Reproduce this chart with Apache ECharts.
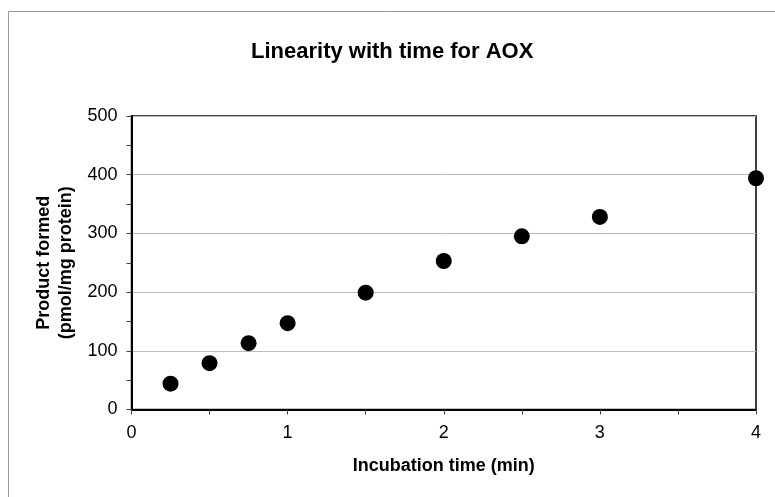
<!DOCTYPE html>
<html>
<head>
<meta charset="utf-8">
<script src="https://cdn.jsdelivr.net/npm/echarts@6/dist/echarts.min.js"></script>
<style>html,body{margin:0;padding:0;background:#fff}#c{width:775px;height:497px}</style>
</head>
<body>
<div id="c"></div>
<script>
var titleText = 'Linearity with time for AOX';
var xName = 'Incubation time (min)';
var yName = 'Product formed\n(pmol/mg protein)';
var times = [0.25, 0.5, 0.75, 1, 1.5, 2, 2.5, 3, 4];
var product = [44, 79, 113, 147, 199, 253, 295, 328, 394];

var chart = echarts.init(document.getElementById('c'), null, {renderer: 'canvas'});
var font = 'Liberation Sans, Arial, sans-serif';
chart.setOption({
  animation: false,
  backgroundColor: '#fff',
  title: {
    text: titleText, left: 251, top: 41, padding: 0,
    textStyle: {fontFamily: font, fontSize: 22, fontWeight: 'bold', color: '#000'}
  },
  grid: {left: 131.5, right: 19, top: 116, bottom: 87.5, show: true, borderColor: '#000', borderWidth: 1.5, containLabel: false},
  graphic: [
    {type: 'line', shape: {x1: 8.5, y1: 11.5, x2: 775, y2: 11.5}, style: {stroke: '#999', lineWidth: 1}},
    {type: 'line', shape: {x1: 8.5, y1: 11.5, x2: 8.5, y2: 497}, style: {stroke: '#999', lineWidth: 1}}
  ],
  xAxis: {
    type: 'value', min: 0, max: 4, interval: 1,
    name: xName, nameLocation: 'middle', nameGap: 48,
    nameTextStyle: {fontFamily: font, fontSize: 18, fontWeight: 'bold', color: '#000'},
    axisLine: {show: true, lineStyle: {color: '#000', width: 2}},
    axisTick: {show: true, length: 5, lineStyle: {color: '#444'}},
    minorTick: {show: true, splitNumber: 2, length: 5, lineStyle: {color: '#444'}},
    axisLabel: {margin: 15, fontFamily: font, fontSize: 18, color: '#000'},
    splitLine: {show: false}
  },
  yAxis: {
    type: 'value', min: 0, max: 500, interval: 100,
    name: yName, nameLocation: 'middle', nameGap: 50,
    nameTextStyle: {fontFamily: font, fontSize: 18, fontWeight: 'bold', color: '#000', lineHeight: 22},
    axisLine: {show: true, lineStyle: {color: '#000', width: 2}},
    axisTick: {show: true, length: 5, lineStyle: {color: '#444'}},
    minorTick: {show: true, splitNumber: 2, length: 5, lineStyle: {color: '#444'}},
    axisLabel: {margin: 14, fontFamily: font, fontSize: 18, color: '#000'},
    splitLine: {show: true, lineStyle: {color: '#bbb', width: 1}}
  },
  series: [{
    type: 'scatter',
    data: times.map(function (t, i) { return [t, product[i]]; }),
    symbol: 'circle', symbolSize: 16,
    itemStyle: {color: '#000', opacity: 1},
    clip: false
  }]
});
</script>
</body>
</html>
